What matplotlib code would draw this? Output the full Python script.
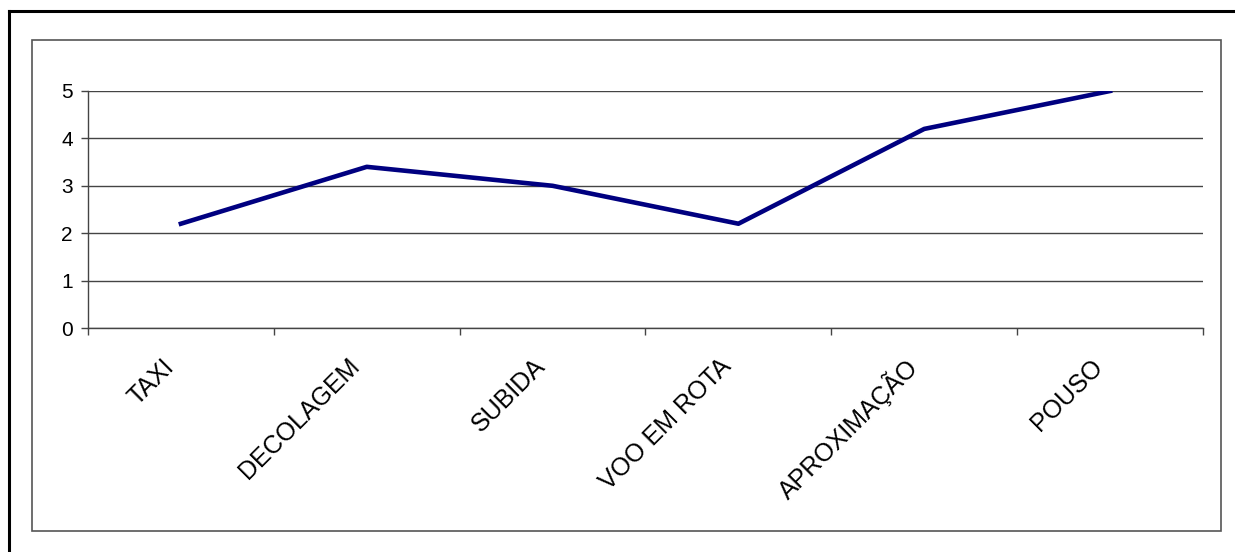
import numpy as np
import matplotlib.pyplot as plt
import matplotlib.transforms as mtransforms
from matplotlib.patches import Rectangle
from matplotlib.lines import Line2D

plt.rcParams['font.family'] = ['Liberation Sans', 'DejaVu Sans']

etapas = ['TAXI', 'DECOLAGEM', 'SUBIDA', 'VOO EM ROTA', 'APROXIMAÇÃO', 'POUSO']
valores = [2.2, 3.4, 3.0, 2.2, 4.2, 5.0]
yticks = [0, 1, 2, 3, 4, 5]

fig = plt.figure(figsize=(12.35, 5.52), dpi=100)

# outer frame (top and left edges only visible)
fig.add_artist(Line2D([9 / 1235, 9 / 1235], [0, 1 - 11 / 552], color='black', lw=2.2))
fig.add_artist(Line2D([9 / 1235, 1], [1 - 11 / 552, 1 - 11 / 552], color='black', lw=2.2))
# chart area frame
fig.add_artist(Rectangle((32 / 1235, 21 / 552), 1189 / 1235, 491 / 552,
                         fill=False, edgecolor='#555555', lw=1.2))

ax = fig.add_axes([88 / 1235, 224 / 552, 1115 / 1235, 237 / 552])
x = np.arange(len(etapas))
ax.plot(x, valores, color='#000080', lw=3.3, solid_joinstyle='round', zorder=3)

ax.set_xlim(-0.5, len(etapas) - 0.5)
ax.set_ylim(0, 5)
ax.set_yticks(yticks)
ax.yaxis.grid(True, color='#444444', lw=1.0)
ax.tick_params(axis='y', length=5, width=1, color='#444444', labelsize=15, pad=6)

ax.set_xticks(x)
ax.set_xticklabels(etapas, rotation=45, ha='right', va='center',
                   rotation_mode='anchor', fontsize=18)
ax.tick_params(axis='x', which='major', length=0, pad=25)
# nudge the rotated labels to the left
shift = mtransforms.ScaledTranslation(-11 / 100, 0, fig.dpi_scale_trans)
for lbl in ax.get_xticklabels():
    lbl.set_transform(lbl.get_transform() + shift)
ax.set_xticks(np.arange(-0.5, len(etapas)), minor=True)
ax.tick_params(axis='x', which='minor', length=5, width=1, color='#444444')

for s in ['top', 'right']:
    ax.spines[s].set_visible(False)
for s in ['left', 'bottom']:
    ax.spines[s].set_color('#444444')
    ax.spines[s].set_linewidth(1.0)

fig.savefig('out.png', dpi=100)
